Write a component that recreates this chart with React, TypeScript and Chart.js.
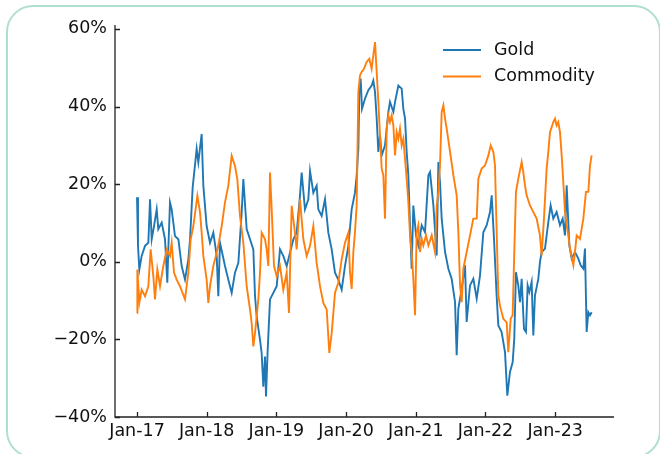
import React, { useEffect, useRef } from "react";
import { Chart, registerables } from "chart.js";

Chart.register(...registerables);

// months since Jan-2017
const goldMonths = [0, 0.17, 0.4, 0.8, 1.38, 1.95, 2.24, 2.53, 2.93, 3.39, 3.67, 4.25, 4.82, 5.22, 5.39, 5.68, 5.97, 6.54, 7.12, 7.69, 8.26, 8.84, 9.13, 9.58, 10.27, 10.56, 11.13, 11.42, 11.99, 12.57, 13.14, 13.72, 14.0, 14.29, 15.15, 15.72, 16.3, 16.87, 17.45, 18.02, 18.31, 18.88, 19.46, 20.03, 20.32, 20.6, 21.18, 21.46, 21.75, 22.04, 22.21, 22.5, 22.9, 23.47, 24.05, 24.62, 25.19, 25.77, 26.34, 26.92, 27.49, 28.06, 28.35, 28.92, 29.5, 29.79, 30.36, 30.93, 31.22, 31.79, 32.37, 32.94, 33.52, 34.09, 34.66, 35.24, 35.81, 36.39, 36.96, 37.53, 37.82, 38.11, 38.28, 38.51, 38.74, 39.25, 39.83, 40.4, 40.69, 40.98, 41.27, 41.55, 41.84, 42.13, 42.7, 43.28, 43.56, 44.14, 44.43, 45.0, 45.57, 45.86, 46.15, 46.43, 46.72, 47.01, 47.29, 47.58, 48.04, 48.44, 49.02, 49.59, 50.17, 50.45, 51.03, 51.6, 51.89, 52.17, 52.46, 53.04, 53.61, 54.18, 54.76, 55.04, 55.33, 55.91, 56.48, 56.76, 57.34, 57.91, 58.49, 59.06, 59.63, 60.21, 60.78, 61.07, 61.47, 61.92, 62.21, 62.78, 63.36, 63.76, 64.22, 64.68, 64.96, 65.25, 65.65, 65.94, 66.23, 66.63, 66.97, 67.26, 67.55, 67.95, 68.24, 68.52, 69.1, 69.38, 69.67, 70.25, 70.82, 71.22, 71.68, 72.25, 72.83, 73.29, 73.69, 73.98, 74.44, 74.84, 75.41, 75.99, 76.39, 76.85, 77.13, 77.42, 77.71, 78.0, 78.28];
const goldValues = [16.6, 4.1, -2.0, 1.5, 4.1, 4.9, 16.1, 5.8, 9.2, 13.5, 8.4, 10.1, 5.8, -5.4, 3.2, 15.3, 13.5, 6.6, 5.8, -1.1, -4.6, 0.6, 5.8, 19.1, 29.1, 25.6, 32.9, 19.6, 9.2, 4.9, 7.5, 1.5, -8.9, 4.9, -1.1, -4.6, -8.0, -2.8, -0.3, 12.7, 21.3, 8.4, 5.8, 3.2, -8.9, -14.1, -20.1, -23.5, -32.2, -24.4, -34.7, -22.7, -9.7, -8.0, -6.3, 3.2, 1.5, -1.1, 2.3, 5.8, 7.5, 17.0, 23.0, 13.5, 16.1, 23.4, 17.8, 19.6, 13.5, 11.8, 16.1, 7.5, 3.2, -2.8, -4.6, -7.2, -1.1, 4.1, 13.5, 17.8, 22.2, 29.1, 43.7, 47.2, 39.4, 42.0, 44.2, 45.4, 46.7, 43.7, 36.9, 28.3, 32.6, 27.4, 30.0, 38.6, 41.2, 38.6, 41.2, 45.4, 44.6, 39.4, 36.9, 28.3, 22.3, 9.4, -1.8, 14.5, 6.8, 4.2, 9.4, 7.6, 22.3, 23.1, 14.5, 1.6, 25.7, 20.5, 11.1, 2.5, -1.8, -4.4, -10.4, -24.1, -12.1, -7.0, -0.9, -15.5, -6.1, -4.4, -9.5, -3.5, 7.6, 9.4, 12.8, 17.1, 5.9, -8.7, -16.4, -18.1, -23.3, -34.5, -28.4, -25.9, -19.8, -2.7, -6.1, -10.4, -4.4, -17.3, -18.1, -6.1, -7.8, -5.2, -19.0, -8.7, -4.4, -0.1, 2.5, 3.4, 10.2, 14.5, 11.1, 12.8, 9.4, 11.1, 6.8, 19.7, 4.2, 0.8, 2.5, 0.8, -0.9, -1.8, 3.4, -18.1, -13.0, -13.8, -13.0];

const commodityMonths = [0, 0.06, 0.4, 0.8, 1.38, 1.95, 2.35, 2.81, 3.1, 3.5, 3.96, 4.53, 5.11, 5.68, 5.97, 6.37, 6.83, 7.4, 8.26, 8.84, 9.24, 9.7, 10.39, 10.85, 11.13, 11.42, 11.99, 12.28, 12.57, 13.14, 13.43, 14.0, 14.58, 15.15, 15.72, 16.3, 16.87, 17.27, 17.73, 18.31, 18.88, 19.46, 19.74, 20.03, 20.32, 20.89, 21.18, 21.46, 22.04, 22.32, 22.61, 22.9, 23.19, 23.59, 24.05, 24.62, 25.19, 25.77, 26.17, 26.63, 27.2, 27.49, 28.06, 28.64, 29.21, 29.79, 30.36, 30.93, 31.51, 32.08, 32.66, 33.11, 33.52, 34.09, 34.66, 35.24, 35.81, 36.39, 36.67, 36.96, 37.25, 37.53, 37.82, 38.11, 38.39, 38.68, 39.08, 39.54, 40.0, 40.4, 40.69, 40.98, 41.27, 41.55, 41.84, 42.13, 42.41, 42.7, 42.99, 43.28, 43.56, 43.85, 44.14, 44.43, 44.71, 45.0, 45.28, 45.57, 45.86, 46.15, 46.43, 46.72, 47.01, 47.29, 47.58, 47.87, 48.15, 48.44, 48.73, 49.02, 49.3, 49.76, 50.17, 50.74, 51.31, 51.6, 51.89, 52.17, 52.46, 52.75, 53.04, 53.32, 53.9, 54.47, 54.76, 55.04, 55.33, 55.62, 55.91, 56.19, 56.76, 57.34, 57.91, 58.49, 58.77, 59.35, 59.92, 60.5, 60.9, 61.36, 61.64, 61.93, 62.21, 62.5, 63.07, 63.65, 63.93, 64.34, 64.68, 64.96, 65.25, 65.65, 66.23, 66.51, 66.8, 67.09, 67.66, 68.24, 68.81, 69.38, 69.67, 70.07, 70.53, 70.82, 71.11, 71.68, 71.97, 72.25, 72.54, 72.83, 73.12, 73.4, 73.69, 73.98, 74.26, 74.55, 75.13, 75.41, 75.7, 76.27, 76.85, 77.3, 77.71, 78.0, 78.28];
const commodityValues = [-13.2, -2.0, -10.6, -7.2, -8.9, -6.3, 3.2, -3.7, -9.7, -2.0, -6.3, -1.1, 3.2, 1.5, 4.9, -2.8, -4.6, -6.3, -9.7, -2.8, 5.8, 9.2, 17.0, 12.7, 7.5, 1.5, -4.6, -10.6, -6.3, -1.1, 0.6, 4.1, 9.2, 15.3, 19.6, 27.3, 24.7, 21.3, 11.8, 4.9, -6.3, -12.3, -15.8, -21.8, -18.4, -9.7, -2.8, 7.5, 5.8, 3.2, -1.1, 23.0, 13.5, -1.1, -3.7, -1.1, -7.2, -2.8, -13.2, 14.4, 7.5, 3.2, 16.1, 5.8, 1.5, 4.1, 9.2, -0.3, -6.3, -10.6, -12.3, -23.5, -18.4, -8.0, -5.4, 0.6, 4.9, 7.5, -2.7, -7.0, 2.5, 7.6, 14.5, 43.7, 48.0, 48.9, 49.7, 51.5, 52.3, 49.7, 53.2, 56.6, 48.9, 41.2, 32.6, 24.0, 22.3, 11.1, 34.3, 37.7, 36.0, 37.7, 35.1, 27.4, 33.4, 31.7, 34.3, 30.0, 31.7, 26.5, 21.4, 15.4, 6.8, 2.5, -4.4, -13.8, 7.6, 9.4, 2.5, 5.9, 4.2, 6.8, 4.2, 6.8, 2.5, 14.5, 18.0, 24.8, 38.6, 40.3, 36.9, 34.3, 28.3, 22.3, 19.7, 17.1, 7.6, -6.1, -10.4, -1.8, 2.5, 6.8, 11.1, 11.1, 21.4, 24.0, 24.8, 27.4, 30.0, 28.3, 24.8, 7.6, -8.7, -11.3, -14.7, -15.6, -23.3, -14.7, -13.8, 2.5, 18.0, 21.4, 25.7, 23.1, 19.7, 17.1, 14.5, 12.8, 11.1, 6.8, 1.6, 11.1, 24.0, 28.3, 33.4, 36.0, 36.9, 35.1, 36.0, 33.4, 27.4, 20.5, 12.8, 9.4, 6.8, 3.4, -0.9, 2.5, 6.8, 5.9, 11.1, 18.0, 18.0, 24.8, 27.4];

const xTickMonths = [0, 12, 24, 36, 48, 60, 72];
const xTickLabels = ["Jan-17", "Jan-18", "Jan-19", "Jan-20", "Jan-21", "Jan-22", "Jan-23"];
const yTicks = [-40, -20, 0, 20, 40, 60];
const seriesNames = ["Gold", "Commodity"];
const seriesColors = ["#1f77b4", "#ff7f0e"];

const FONT = "'DejaVu Sans', sans-serif";

const decorPlugin = {
  id: "decor",
  afterDraw(chart: any) {
    const { ctx, chartArea, scales } = chart;
    const xs = scales.x;
    const ys = scales.y;
    ctx.save();
    ctx.strokeStyle = "#222";
    ctx.lineWidth = 1.3;
    ctx.beginPath();
    ctx.moveTo(chartArea.left, chartArea.top);
    ctx.lineTo(chartArea.left, chartArea.bottom);
    ctx.lineTo(chartArea.right, chartArea.bottom);
    ctx.stroke();
    ctx.beginPath();
    xTickMonths.forEach((m) => {
      const px = Math.round(xs.getPixelForValue(m)) + 0.5;
      ctx.moveTo(px, chartArea.bottom);
      ctx.lineTo(px, chartArea.bottom - 5);
    });
    yTicks.forEach((v) => {
      const py = Math.round(ys.getPixelForValue(v)) + 0.5;
      ctx.moveTo(chartArea.left, py);
      ctx.lineTo(chartArea.left + 5, py);
    });
    ctx.stroke();
    const lx = chartArea.right - 171;
    const ly = chartArea.top + 25;
    ctx.font = `17.5px ${FONT}`;
    ctx.textBaseline = "middle";
    ctx.textAlign = "left";
    seriesNames.forEach((name, i) => {
      const y = ly + i * 26.5;
      ctx.strokeStyle = seriesColors[i];
      ctx.lineWidth = 2;
      ctx.beginPath();
      ctx.moveTo(lx, y);
      ctx.lineTo(lx + 38, y);
      ctx.stroke();
      ctx.fillStyle = "#111";
      ctx.fillText(name, lx + 51, y);
    });
    ctx.restore();
  },
};

export default function App() {
  const canvasRef = useRef<HTMLCanvasElement | null>(null);

  useEffect(() => {
    if (!canvasRef.current) return;
    const gold = goldMonths.map((m, i) => ({ x: m, y: goldValues[i] }));
    const comm = commodityMonths.map((m, i) => ({ x: m, y: commodityValues[i] }));
    const chart = new Chart(canvasRef.current, {
      type: "line",
      data: {
        datasets: [
          {
            label: seriesNames[0],
            data: gold,
            borderColor: seriesColors[0],
            backgroundColor: seriesColors[0],
            borderWidth: 1.9,
            pointRadius: 0,
            tension: 0,
            order: 1,
          },
          {
            label: seriesNames[1],
            data: comm,
            borderColor: seriesColors[1],
            backgroundColor: seriesColors[1],
            borderWidth: 1.9,
            pointRadius: 0,
            tension: 0,
            order: 0,
          },
        ],
      },
      options: {
        animation: false,
        responsive: false,
        maintainAspectRatio: false,
        layout: { padding: { left: 0, top: 25, right: 46, bottom: 0 } },
        plugins: { legend: { display: false }, tooltip: { enabled: false } },
        scales: {
          x: {
            type: "linear",
            min: -3.79,
            max: 82.13,
            grid: { display: false, drawTicks: false },
            border: { display: false },
            afterBuildTicks: (scale: any) => {
              scale.ticks = xTickMonths.map((v) => ({ value: v }));
            },
            afterFit: (scale: any) => {
              scale.height = 37;
            },
            ticks: {
              autoSkip: false,
              maxRotation: 0,
              padding: 4,
              color: "#111",
              font: { family: FONT, size: 17.5 },
              callback: (v: any) => {
                const idx = xTickMonths.indexOf(Number(v));
                return idx >= 0 ? xTickLabels[idx] : "";
              },
            },
          },
          y: {
            type: "linear",
            min: -40,
            max: 61,
            grid: { display: false, drawTicks: false },
            border: { display: false },
            afterBuildTicks: (scale: any) => {
              scale.ticks = yTicks.map((v) => ({ value: v }));
            },
            afterFit: (scale: any) => {
              scale.width = 115;
            },
            ticks: {
              padding: 8,
              color: "#111",
              font: { family: FONT, size: 17.5 },
              callback: (v: any) => `${Number(v) < 0 ? "\u2212" + Math.abs(Number(v)) : v}%`,
            },
          },
        },
      },
      plugins: [decorPlugin],
    } as any);
    return () => chart.destroy();
  }, []);

  return (
    <div style={{ position: "absolute", left: 0, top: 0, width: 660, height: 454, overflow: "hidden", background: "#fff" }}>
      <div
        style={{
          position: "absolute",
          left: 6,
          top: 5,
          width: 655,
          height: 453,
          boxSizing: "border-box",
          border: "2px solid #b0dfd0",
          borderRadius: 27,
        }}
      />
      <canvas ref={canvasRef} width={660} height={454} style={{ position: "absolute", left: 0, top: 0, width: 660, height: 454 }} />
    </div>
  );
}
